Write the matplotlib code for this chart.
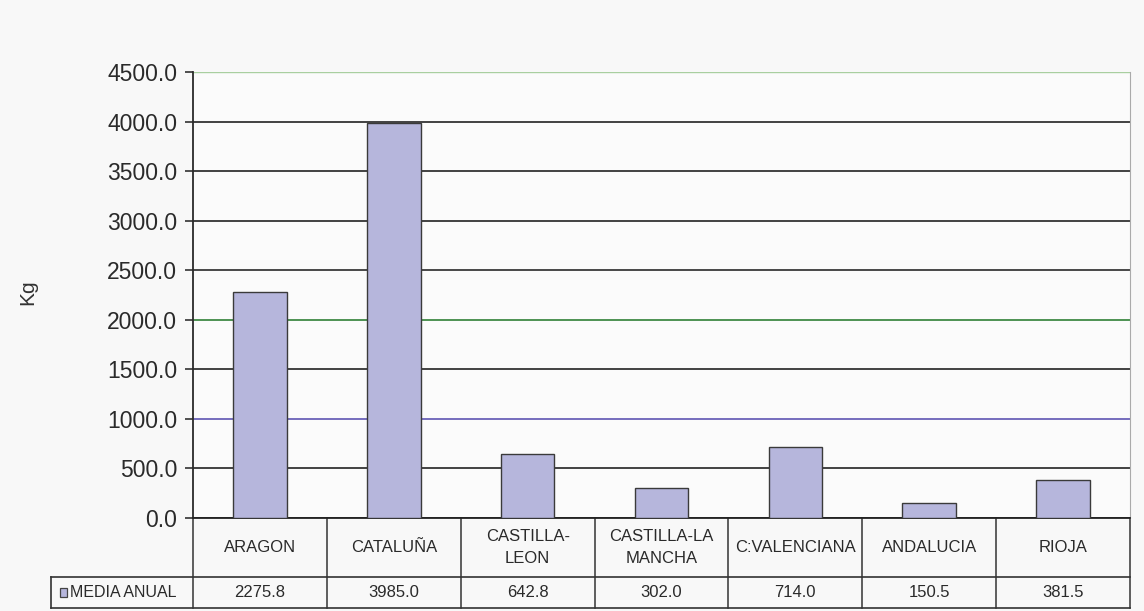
import numpy as np
import matplotlib.pyplot as plt
from matplotlib.patches import Rectangle
import matplotlib.transforms as mtransforms

regions = ['ARAGON', 'CATALUÑA', 'CASTILLA-\nLEON', 'CASTILLA-LA\nMANCHA',
           'C:VALENCIANA', 'ANDALUCIA', 'RIOJA']
media_anual = [2275.8, 3985.0, 642.8, 302.0, 714.0, 150.5, 381.5]
y_ticks = [0, 500, 1000, 1500, 2000, 2500, 3000, 3500, 4000, 4500]
grid_colors = ['#222222', '#333333', '#6a62b8', '#333333', '#3f8a45',
               '#3a3a3a', '#333333', '#333333', '#333333', '#a9cfa0']

plt.rcParams['font.family'] = ['Liberation Sans', 'DejaVu Sans']

fig = plt.figure(figsize=(11.44, 6.11), dpi=100, facecolor='#f8f8f8')
W, H = 1144, 611
left, right, top, bottom = 193, 1130, 72, 518
ax = fig.add_axes([left / W, 1 - bottom / H, (right - left) / W, (bottom - top) / H])
ax.set_facecolor('#fbfbfb')

x = np.arange(len(regions))
ax.bar(x, media_anual, width=0.4, color='#b6b6dc', edgecolor='#3a3a3a',
       linewidth=1, zorder=3)

for v, c in zip(y_ticks, grid_colors):
    ax.axhline(v, color=c, lw=1.0 if v == 4500 else 1.3, zorder=1)

ax.set_xlim(-0.5, len(regions) - 0.5)
ax.set_ylim(0, 4500)
ax.set_yticks(y_ticks)
ax.set_yticklabels(['%.1f' % v for v in y_ticks], fontsize=16.5, color='#2a2a2a')
ax.tick_params(axis='y', direction='out', length=6, width=1.2, color='#333333', pad=5.5)
ax.set_xticks([])
ax.spines['top'].set_visible(False)
ax.spines['right'].set_color('#aaaaaa')
ax.spines['right'].set_linewidth(0.8)
ax.spines['left'].set_color('#2a2a2a')
ax.spines['left'].set_linewidth(1.3)
ax.spines['bottom'].set_color('#222222')
ax.spines['bottom'].set_linewidth(1.3)
ax.set_ylabel('Kg', fontsize=15, color='#333333')
ax.yaxis.set_label_coords((37 - left) / (right - left), (bottom - 292) / (bottom - top))

# data table under the axis
h = bottom - top
r1 = -(577 - bottom) / h
r2 = -(608 - bottom) / h
px = 1 / (right - left)
leg_x = -(left - 51) * px
tb = mtransforms.blended_transform_factory(ax.transData, ax.transAxes)
ta = ax.transAxes
lc = '#333333'
ax.plot([leg_x, 1], [r1, r1], color=lc, lw=1.2, transform=ta, clip_on=False)
ax.plot([leg_x, 1], [r2, r2], color=lc, lw=1.2, transform=ta, clip_on=False)
ax.plot([leg_x, leg_x], [r1, r2], color=lc, lw=1.2, transform=ta, clip_on=False)
for b in np.arange(len(regions) + 1) - 0.5:
    ax.plot([b, b], [0, r2], color=lc, lw=1.1, transform=tb, clip_on=False)

for i, (name, val) in enumerate(zip(regions, media_anual)):
    ax.text(i, r1 / 2, name, transform=tb, ha='center', va='center',
            fontsize=12, color='#2a2a2a', linespacing=1.55)
    ax.text(i, (r1 + r2) / 2, '%.1f' % val, transform=tb, ha='center',
            va='center', fontsize=12, color='#2a2a2a')

ax.add_patch(Rectangle((leg_x + 9 * px, (r1 + r2) / 2 - 4.5 / h), 7 * px, 9 / h,
                       transform=ta, clip_on=False, facecolor='#b6b6dc',
                       edgecolor='#444444', lw=0.9))
ax.text(leg_x + 19 * px, (r1 + r2) / 2, 'MEDIA ANUAL', transform=ta,
        ha='left', va='center', fontsize=11.5, color='#2a2a2a')

fig.savefig('out.png', dpi=100, facecolor=fig.get_facecolor())
